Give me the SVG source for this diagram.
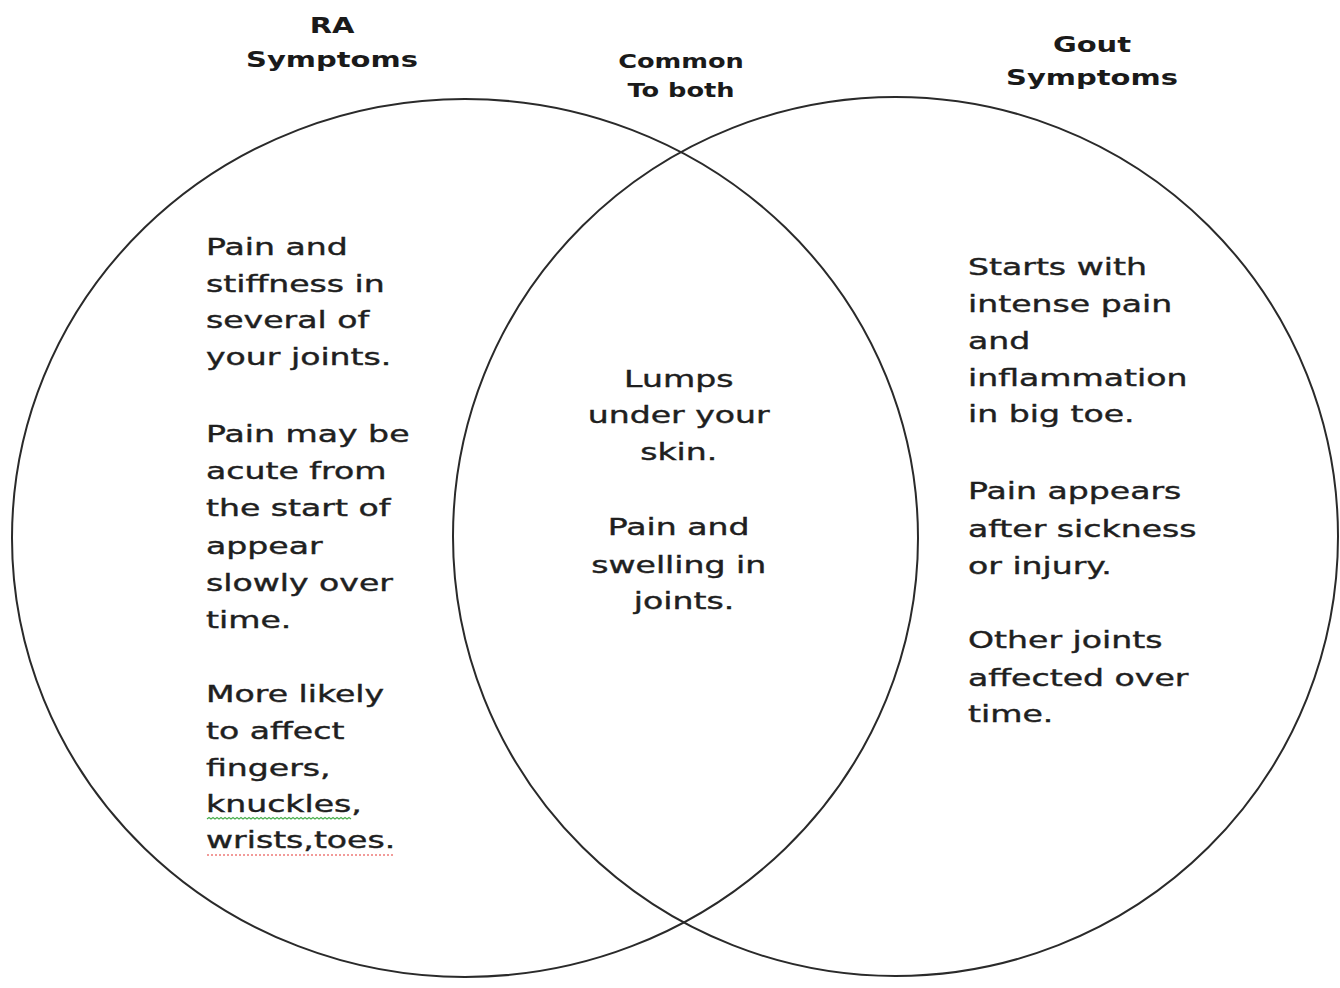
<svg xmlns="http://www.w3.org/2000/svg" width="1340" height="988" viewBox="0 0 1340 988">
<style>
.circle{fill:none;stroke:#2a2a2a;stroke-width:2}
.title{font-family:"DejaVu Sans","Liberation Sans",sans-serif;font-weight:bold;font-size:21px;fill:#1a1a1a;text-anchor:middle}
.title-s{font-family:"DejaVu Sans","Liberation Sans",sans-serif;font-weight:bold;font-size:19px;fill:#1a1a1a;text-anchor:middle}
.body{font-family:"DejaVu Sans","Liberation Sans",sans-serif;font-size:23px;fill:#1f1f1f;stroke:#1f1f1f;stroke-width:0.4}
.mid{text-anchor:middle}
.sq-g{fill:none;stroke:#4caf50;stroke-width:1.2}
.sq-r{fill:none;stroke:#e53935;stroke-width:1.2;stroke-dasharray:2 2}
</style>
<rect x="0" y="0" width="1340" height="988" fill="#ffffff"/>

<g id="ra-circle">
<ellipse class="circle" cx="465" cy="538" rx="453" ry="439"/>
</g>
<g id="gout-circle">
<ellipse class="circle" cx="895.5" cy="536.5" rx="442.5" ry="439.5"/>
</g>
<g id="connectors"></g>

<g id="ra-title" transform="translate(332 0) scale(1.38 1)">
<text class="title"><tspan x="0" y="33">RA</tspan><tspan x="0" y="67">Symptoms</tspan></text>
</g>
<g id="common-title" transform="translate(681 0) scale(1.35 1)">
<text class="title-s"><tspan x="0" y="68">Common</tspan><tspan x="0" y="97">To both</tspan></text>
</g>
<g id="gout-title" transform="translate(1092 0) scale(1.38 1)">
<text class="title"><tspan x="0" y="52">Gout</tspan><tspan x="0" y="85">Symptoms</tspan></text>
</g>

<g id="ra-text">
<g transform="translate(206 0) scale(1.44 1)">
<text class="body">
<tspan x="0" y="255">Pain and</tspan>
<tspan x="0" y="292">stiffness in</tspan>
<tspan x="0" y="328.5">several of</tspan>
<tspan x="0" y="365.5">your joints.</tspan>
<tspan x="0" y="442">Pain may be</tspan>
<tspan x="0" y="479">acute from</tspan>
<tspan x="0" y="516">the start of</tspan>
<tspan x="0" y="554">appear</tspan>
<tspan x="0" y="591">slowly over</tspan>
<tspan x="0" y="628">time.</tspan>
<tspan x="0" y="702">More likely</tspan>
<tspan x="0" y="739">to affect</tspan>
<tspan x="0" y="776">fingers,</tspan>
<tspan x="0" y="812">knuckles,</tspan>
<tspan x="0" y="848">wrists,toes.</tspan>
</text>
</g>
<polyline class="sq-g" points="207,819 209,817.5 211,819 213,817.5 215,819 217,817.5 219,819 221,817.5 223,819 225,817.5 227,819 229,817.5 231,819 233,817.5 235,819 237,817.5 239,819 241,817.5 243,819 245,817.5 247,819 249,817.5 251,819 253,817.5 255,819 257,817.5 259,819 261,817.5 263,819 265,817.5 267,819 269,817.5 271,819 273,817.5 275,819 277,817.5 279,819 281,817.5 283,819 285,817.5 287,819 289,817.5 291,819 293,817.5 295,819 297,817.5 299,819 301,817.5 303,819 305,817.5 307,819 309,817.5 311,819 313,817.5 315,819 317,817.5 319,819 321,817.5 323,819 325,817.5 327,819 329,817.5 331,819 333,817.5 335,819 337,817.5 339,819 341,817.5 343,819 345,817.5 347,819 349,817.5 351,819"/>
<line class="sq-r" x1="207" y1="855" x2="393" y2="855"/>
</g>

<g id="common-text" transform="translate(684 0) scale(1.44 1)">
<text class="body mid">
<tspan x="0" y="387">Lumps</tspan>
<tspan x="0" y="423">under your</tspan>
<tspan x="0" y="460">skin.</tspan>
<tspan x="0" y="535">Pain and</tspan>
<tspan x="0" y="573">swelling in</tspan>
<tspan x="0" y="609">joints.</tspan>
</text>
</g>

<g id="gout-text" transform="translate(968 0) scale(1.44 1)">
<text class="body">
<tspan x="0" y="275">Starts with</tspan>
<tspan x="0" y="312">intense pain</tspan>
<tspan x="0" y="349">and</tspan>
<tspan x="0" y="386">inflammation</tspan>
<tspan x="0" y="422">in big toe.</tspan>
<tspan x="0" y="499">Pain appears</tspan>
<tspan x="0" y="537">after sickness</tspan>
<tspan x="0" y="574">or injury.</tspan>
<tspan x="0" y="648">Other joints</tspan>
<tspan x="0" y="686">affected over</tspan>
<tspan x="0" y="722">time.</tspan>
</text>
</g>
</svg>
